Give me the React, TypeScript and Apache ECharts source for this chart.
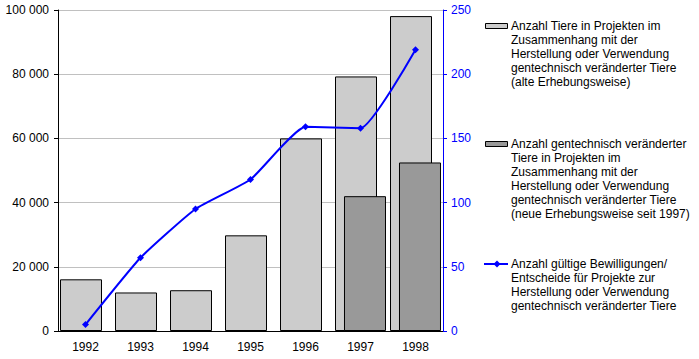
import React, { useEffect, useRef } from "react";
import * as echarts from "echarts";

const years = ["1992", "1993", "1994", "1995", "1996", "1997", "1998"];
const tiereAlt = [16100, 12000, 12700, 29800, 60000, 79300, 98100];
const tiereNeu = [null, null, null, null, null, 42000, 52500];
const bewilligungen = [5, 57, 95, 118, 159, 158, 219];

const legendAlt = "Anzahl Tiere in Projekten im\nZusammenhang mit der\nHerstellung oder Verwendung\ngentechnisch veränderter Tiere\n(alte Erhebungsweise)";
const legendNeu = "Anzahl gentechnisch veränderter\nTiere in Projekten im\nZusammenhang mit der\nHerstellung oder Verwendung\ngentechnisch veränderter Tiere\n(neue Erhebungsweise seit 1997)";
const legendLine = "Anzahl gültige Bewilligungen/\nEntscheide für Projekte zur\nHerstellung oder Verwendung\ngentechnisch veränderter Tiere";

const FONT = "Liberation Sans, Arial, sans-serif";

export default function App() {
  const ref = useRef<HTMLDivElement>(null);
  useEffect(() => {
    if (!ref.current) return;
    const chart = echarts.init(ref.current, null, { renderer: "svg" });
    const fmt = (v: number) => {
      const s = String(Math.round(v));
      return s.replace(/\B(?=(\d{3})+(?!\d))/g, " ");
    };
    chart.setOption({
      animation: false,
      textStyle: { fontFamily: FONT },
      grid: { left: 58, right: 256, top: 10, bottom: 28, containLabel: false },
      xAxis: {
        type: "category",
        data: years,
        boundaryGap: true,
        axisLine: { lineStyle: { color: "#000", width: 1 } },
        axisTick: { show: false },
        axisLabel: { color: "#000", fontSize: 12, fontFamily: FONT, margin: 10 },
      },
      yAxis: [
        {
          type: "value",
          min: 0,
          max: 100000,
          interval: 20000,
          axisLine: { show: true, lineStyle: { color: "#000", width: 1 } },
          axisTick: { show: true, length: 4, lineStyle: { color: "#000" } },
          axisLabel: { color: "#000", fontSize: 12, fontFamily: FONT, margin: 9, formatter: fmt },
          splitLine: { show: true, lineStyle: { color: "#c0c0c0", width: 1 } },
        },
        {
          type: "value",
          min: 0,
          max: 250,
          interval: 50,
          position: "right",
          axisLine: { show: true, lineStyle: { color: "#0000ff", width: 1 } },
          axisTick: { show: true, length: 4, lineStyle: { color: "#0000ff" } },
          axisLabel: { color: "#0000ff", fontSize: 12, fontFamily: FONT, margin: 8 },
          splitLine: { show: false },
        },
      ],
      series: [
        {
          name: "alt",
          type: "bar",
          data: tiereAlt,
          barWidth: 42,
          barGap: "-78.6%",
          itemStyle: { color: "#cccccc", borderColor: "#000", borderWidth: 1 },
          z: 2,
        },
        {
          name: "neu",
          type: "bar",
          data: tiereNeu,
          barWidth: 42,
          itemStyle: { color: "#999999", borderColor: "#000", borderWidth: 1 },
          z: 3,
        },
        {
          name: "bew",
          type: "line",
          yAxisIndex: 1,
          data: bewilligungen,
          smooth: 0.15,
          symbol: "diamond",
          symbolSize: 7,
          lineStyle: { color: "#0000ff", width: 2 },
          itemStyle: { color: "#0000ff" },
          z: 5,
        },
      ],
      graphic: [
        { type: "rect", shape: { x: 485.5, y: 23.5, width: 22, height: 5 }, style: { fill: "#cccccc", stroke: "#000", lineWidth: 1 } },
        { type: "text", x: 511, y: 18.5, style: { text: legendAlt, font: "12px " + FONT, lineHeight: 14, fill: "#000", verticalAlign: "top" } },
        { type: "rect", shape: { x: 485.5, y: 141.5, width: 22, height: 5 }, style: { fill: "#999999", stroke: "#000", lineWidth: 1 } },
        { type: "text", x: 511, y: 136.5, style: { text: legendNeu, font: "12px " + FONT, lineHeight: 14, fill: "#000", verticalAlign: "top" } },
        { type: "line", shape: { x1: 484, y1: 264, x2: 508, y2: 264 }, style: { stroke: "#0000ff", lineWidth: 2 } },
        { type: "polygon", shape: { points: [[497, 260.5], [500.5, 264], [497, 267.5], [493.5, 264]] }, style: { fill: "#0000ff" } },
        { type: "text", x: 511, y: 257, style: { text: legendLine, font: "12px " + FONT, lineHeight: 14, fill: "#000", verticalAlign: "top" } },
      ],
    });
    return () => chart.dispose();
  }, []);
  return <div ref={ref} style={{ width: 699, height: 359, position: "absolute", left: 0, top: 0, background: "#fff" }} />;
}
